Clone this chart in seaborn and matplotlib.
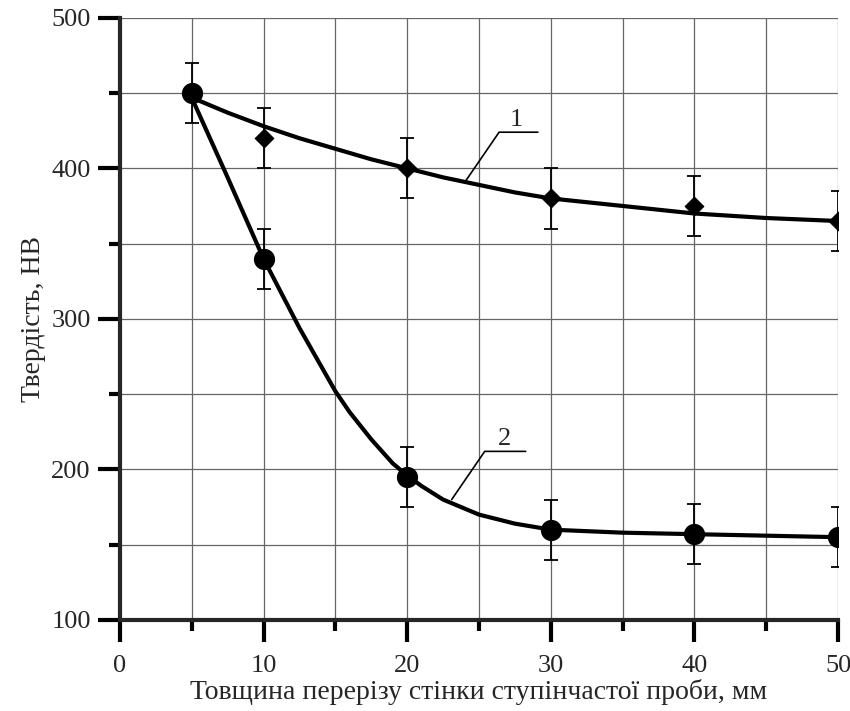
import numpy as np
import pandas as pd
import matplotlib
matplotlib.use("Agg")
import matplotlib.pyplot as plt
from matplotlib.ticker import MultipleLocator
import seaborn as sns

# measured points (mm, HB)
thickness = [5, 10, 20, 30, 40, 50]
hb_1 = [450, 420, 400, 380, 375, 365]
hb_2 = [450, 340, 195, 160, 157, 155]
err_1 = [20, 20, 20, 20, 20, 20]
err_2 = [20, 20, 20, 20, 20, 20]

# fitted curves
fit_x1 = [5, 7.5, 10, 12.5, 15, 17.5, 20, 22.5, 25, 27.5, 30, 35, 40, 45, 50]
fit_y1 = [447, 437, 428, 420, 413, 406, 400, 394, 389, 384, 380, 375, 370, 367, 365]
fit_x2 = [5, 7.5, 10, 12.5, 15, 16, 17.5, 19, 20, 21, 22.5, 25, 27.5, 30, 35, 40, 45, 50]
fit_y2 = [447, 394, 340, 294, 252, 238, 220, 204, 196, 189, 180, 170, 164, 160, 158, 157, 156, 155]


def main():
    sns.set_theme(style="white")
    plt.rcParams['font.family'] = ['Liberation Serif', 'DejaVu Serif']

    fig = plt.figure(figsize=(8.5, 7.11), dpi=100)
    ax = fig.add_axes([0.141, 0.128, 0.845, 0.847])

    pts1 = pd.DataFrame({'x': thickness, 'y': hb_1})
    pts2 = pd.DataFrame({'x': thickness, 'y': hb_2})
    fit1 = pd.DataFrame({'x': fit_x1, 'y': fit_y1})
    fit2 = pd.DataFrame({'x': fit_x2, 'y': fit_y2})

    ax.errorbar(thickness[1:], hb_1[1:], yerr=err_1[1:], fmt='none', ecolor='black',
                elinewidth=1.3, capsize=5, capthick=1.3, zorder=3)
    ax.errorbar(thickness, hb_2, yerr=err_2, fmt='none', ecolor='black',
                elinewidth=1.3, capsize=5, capthick=1.3, zorder=3)

    sns.lineplot(data=fit1, x='x', y='y', color='black', linewidth=3, ax=ax, zorder=4)
    sns.lineplot(data=fit2, x='x', y='y', color='black', linewidth=3, ax=ax, zorder=4)

    sns.scatterplot(data=pts1.iloc[1:], x='x', y='y', marker='D', s=90, color='black',
                    edgecolor='black', ax=ax, zorder=5)
    sns.scatterplot(data=pts2, x='x', y='y', marker='o', s=200, color='black',
                    edgecolor='black', ax=ax, zorder=6)

    # curve labels with leader lines
    ax.plot([24.1, 26.4, 29.1], [392, 424, 424], color='black', lw=1.2, zorder=4)
    ax.text(27.6, 425, '1', ha='center', va='bottom', fontsize=19)
    ax.plot([23.1, 25.4, 28.25], [180, 212, 212], color='black', lw=1.2, zorder=4)
    ax.text(26.8, 213, '2', ha='center', va='bottom', fontsize=19)

    ax.set_xlim(0, 50)
    ax.set_ylim(100, 500)
    ax.xaxis.set_major_locator(MultipleLocator(10))
    ax.xaxis.set_minor_locator(MultipleLocator(5))
    ax.yaxis.set_major_locator(MultipleLocator(100))
    ax.yaxis.set_minor_locator(MultipleLocator(50))
    ax.grid(True, which='both', color='#666666', linewidth=0.9)

    ax.spines['top'].set_visible(False)
    ax.spines['right'].set_visible(False)
    ax.spines['left'].set_linewidth(3)
    ax.spines['bottom'].set_linewidth(3)
    ax.tick_params(which='major', direction='out', length=16, width=3,
                   labelsize=19, color='black', pad=5, bottom=True, left=True)
    ax.tick_params(axis='x', which='major', pad=9)
    ax.tick_params(which='minor', direction='out', length=8, width=3,
                   color='black', bottom=True, left=True)

    ax.set_xlabel("Товщина перерізу стінки ступінчастої проби, мм", fontsize=20, labelpad=2)
    ax.set_ylabel("Твердість, НВ", fontsize=20, labelpad=4)

    fig.savefig("out.png", dpi=100)


if __name__ == "__main__":
    main()
